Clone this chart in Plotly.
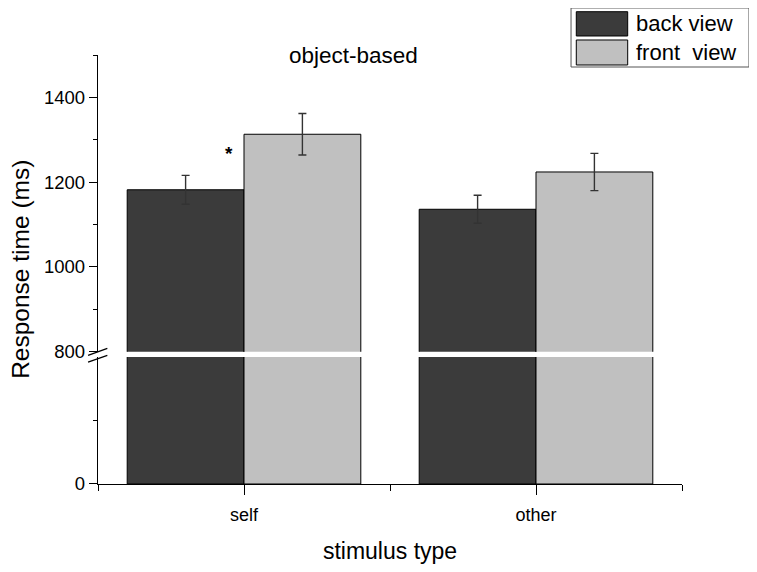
import plotly.graph_objects as go

# data
stimulus = [1, 2]
stimulus_labels = ["self", "other"]
back_rt = [1182, 1136]
back_err = [34, 33]
front_rt = [1313, 1224]
front_err = [49, 44]

BACK_COLOR = "#3b3b3b"
FRONT_COLOR = "#c0c0c0"
FONT = "Liberation Sans, Arial, sans-serif"


def main():
    fig = go.Figure()

    err_style = dict(type="data", thickness=1.4, width=4, color="#333333")

    # upper segment (800-1500), with error bars
    fig.add_trace(go.Bar(x=stimulus, y=back_rt, name="back view",
                         marker=dict(color=BACK_COLOR, line=dict(color="black", width=1)),
                         error_y=dict(array=back_err, **err_style),
                         xaxis="x", yaxis="y2", offsetgroup="back", showlegend=False))
    fig.add_trace(go.Bar(x=stimulus, y=front_rt, name="front  view",
                         marker=dict(color=FRONT_COLOR, line=dict(color="black", width=1)),
                         error_y=dict(array=front_err, **err_style),
                         xaxis="x", yaxis="y2", offsetgroup="front", showlegend=False))

    # lower segment (0-800)
    fig.add_trace(go.Bar(x=stimulus, y=back_rt, name="back view",
                         marker=dict(color=BACK_COLOR, line=dict(color="black", width=1)),
                         xaxis="x", yaxis="y", offsetgroup="back", showlegend=False))
    fig.add_trace(go.Bar(x=stimulus, y=front_rt, name="front  view",
                         marker=dict(color=FRONT_COLOR, line=dict(color="black", width=1)),
                         xaxis="x", yaxis="y", offsetgroup="front", showlegend=False))

    tick_font = dict(family=FONT, size=18.5, color="black")

    fig.update_layout(
        width=749, height=564,
        margin=dict(l=90, r=75, t=47, b=88),
        paper_bgcolor="white", plot_bgcolor="white",
        barmode="group", bargap=0.2, bargroupgap=0,
        showlegend=False,
        font=dict(family=FONT, color="black"),
        xaxis=dict(range=[0.5, 2.5], tickvals=stimulus, ticktext=stimulus_labels,
                   showline=True, linecolor="black", linewidth=1.3,
                   ticks="outside", ticklen=10, tickwidth=1.3, tickcolor="black",
                   ticklabelstandoff=4,
                   minor=dict(tickvals=[0.5, 1.5, 2.5], ticks="outside", ticklen=6,
                              tickwidth=1.3, tickcolor="black"),
                   showgrid=False, zeroline=False, anchor="y",
                   tickfont=dict(family=FONT, size=18, color="black"),
                   title=dict(text="stimulus type", font=dict(family=FONT, size=23),
                              standoff=19)),
        yaxis=dict(domain=[0, 0.296], range=[0, 800], tickvals=[0],
                   showline=True, linecolor="black", linewidth=1.3,
                   ticks="outside", ticklen=8, tickwidth=1.3, tickcolor="black",
                   minor=dict(tickvals=[400], ticks="outside", ticklen=4,
                              tickwidth=1.3, tickcolor="black"),
                   showgrid=False, zeroline=False, anchor="x",
                   tickfont=tick_font),
        yaxis2=dict(domain=[0.3084, 1], range=[800, 1500],
                    tickvals=[800, 1000, 1200, 1400],
                    showline=True, linecolor="black", linewidth=1.3,
                    ticks="outside", ticklen=8, tickwidth=1.3, tickcolor="black",
                    minor=dict(tickvals=[900, 1100, 1300, 1500], ticks="outside",
                               ticklen=4, tickwidth=1.3, tickcolor="black"),
                    showgrid=False, zeroline=False, anchor="x",
                    tickfont=tick_font),
    )

    # axis break marks
    for y0 in (0.300, 0.284):
        fig.add_shape(type="line", xref="paper", yref="paper",
                      x0=-0.017, x1=0.016, y0=y0, y1=y0 + 0.016,
                      line=dict(color="black", width=1.3))

    # titles and significance star
    fig.add_annotation(text="object-based", xref="paper", yref="paper",
                       x=0.437, y=1.0, xanchor="center", yanchor="middle", showarrow=False,
                       font=dict(family=FONT, size=22.5, color="black"))
    fig.add_annotation(text="Response time (ms)", xref="paper", yref="paper",
                       x=-0.133, y=0.5, xanchor="center", yanchor="middle",
                       textangle=-90, showarrow=False,
                       font=dict(family=FONT, size=24.5, color="black"))
    fig.add_annotation(text="<b>*</b>", x=stimulus[0], y=1268, xref="x", yref="y2",
                       xshift=-15, showarrow=False,
                       font=dict(family=FONT, size=19, color="black"))

    # legend box with large swatches
    fig.add_shape(type="rect", xref="paper", yref="paper",
                  x0=0.810, x1=1.1147, y0=0.972, y1=1.1096,
                  line=dict(color="#555555", width=1), fillcolor="white")
    entries = [("back view", BACK_COLOR, 1.0443, 1.1009),
               ("front  view", FRONT_COLOR, 0.9767, 1.035)]
    for label, color, y0, y1 in entries:
        fig.add_shape(type="rect", xref="paper", yref="paper",
                      x0=0.819, x1=0.907, y0=y0, y1=y1,
                      line=dict(color="black", width=1), fillcolor=color)
        fig.add_annotation(text=label, xref="paper", yref="paper",
                           x=0.918, y=(y0 + y1) / 2, xanchor="left", yanchor="middle",
                           showarrow=False,
                           font=dict(family=FONT, size=22, color="black"))

    fig.write_html("out.html")


if __name__ == "__main__":
    main()
